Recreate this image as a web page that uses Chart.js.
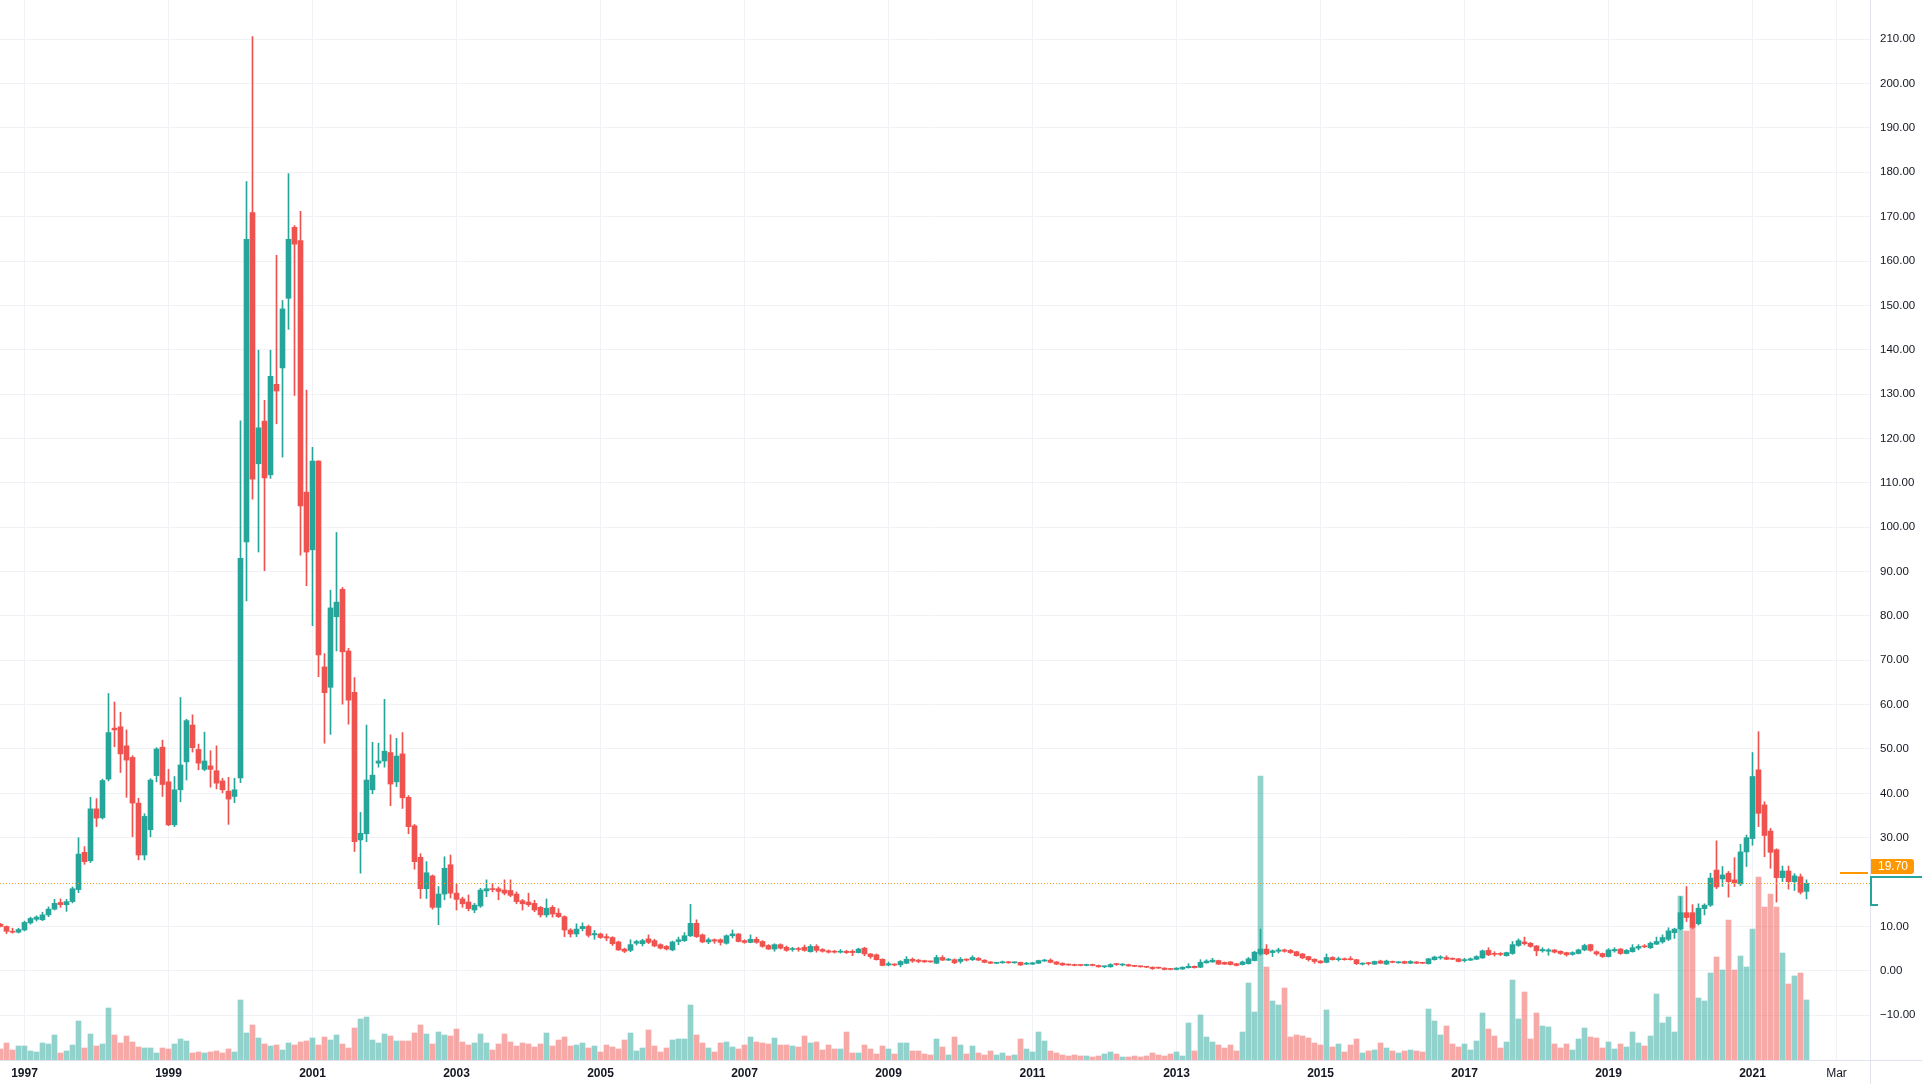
<!DOCTYPE html>
<html>
<head>
<meta charset="utf-8">
<script src="https://cdn.jsdelivr.net/npm/chart.js@4.4.1/dist/chart.umd.min.js"></script>
<style>
  html, body { margin: 0; padding: 0; background: #ffffff; }
  canvas { display: block; }
</style>
</head>
<body>
<canvas id="chart" width="1922" height="1084"></canvas>
<script>
// monthly candles, first bar is Sep 1996, last bar Oct 2021
var firstYear = 1996, firstMonth = 8;

var opens = [10.5,10.0,8.9,8.7,
  9.2,10.8,11.6,11.5,12.6,13.9,15.4,14.9,15.6,18.3,26.7,24.8,
  36.5,34.5,43.2,54.7,55.0,50.7,48.1,37.8,26.1,31.8,44.0,50.4,
  42.6,32.9,40.8,47.1,55.4,49.9,45.4,46.2,45.1,42.8,40.5,39.3,
  43.5,96.7,170.9,114.3,123.9,111.8,132.2,135.9,151.6,167.6,164.6,107.9,
  94.9,114.9,68.5,63.9,79.8,86.0,72.1,62.8,29.5,30.9,40.8,46.8,
  47.3,49.2,42.6,48.9,39.1,32.7,25.6,18.5,21.4,14.3,17.3,23.9,
  17.5,16.2,15.5,13.7,14.6,18.0,18.5,18.5,18.2,18.1,17.3,15.8,
  15.5,15.2,14.3,12.6,14.3,13.0,12.2,9.2,8.3,9.5,10.0,8.1,
  8.3,7.7,7.5,6.5,4.9,4.6,6.2,6.1,7.2,6.8,5.9,5.5,
  4.7,6.6,6.8,7.9,10.7,8.1,6.5,7.0,7.0,6.2,7.9,8.3,
  6.8,6.4,7.1,6.6,5.7,4.9,5.9,5.3,4.8,4.9,5.3,4.3,
  5.5,4.8,4.5,4.4,4.2,4.4,4.4,4.1,5.1,3.8,3.6,2.6,
  1.3,1.5,1.35,1.7,2.6,2.4,2.3,2.1,1.7,3.0,2.4,2.5,
  2.1,2.6,2.5,2.8,2.4,2.0,1.7,1.8,2.0,1.8,1.9,1.5,
  1.5,1.7,2.2,2.4,2.0,1.7,1.4,1.4,1.3,1.2,1.4,1.2,
  0.9,0.9,1.5,1.3,1.4,1.1,1.0,0.9,0.8,0.7,0.6,0.4,
  0.3,0.4,0.7,1.0,0.8,1.8,2.0,2.3,1.9,2.0,1.6,1.4,
  1.6,2.3,3.8,4.9,4.1,4.4,4.7,4.6,4.3,3.8,3.2,2.6,
  2.2,1.9,3.0,2.5,2.7,2.7,2.5,1.5,1.7,1.5,2.2,1.5,
  2.1,1.8,2.1,1.7,2.0,1.8,1.6,2.5,2.9,3.0,2.8,2.7,
  2.3,2.4,2.6,2.9,4.6,3.9,3.9,3.4,3.9,5.7,6.5,6.2,
  5.6,4.5,4.4,4.7,4.4,4.1,3.7,3.9,4.7,5.9,4.3,3.9,
  3.2,4.5,4.9,3.9,4.3,5.1,5.6,5.2,6.0,6.5,7.1,8.6,
  9.5,13.1,13.1,10.6,14.0,14.8,22.7,20.7,22.0,20.5,19.6,26.8,
  29.8,45.3,37.4,31.5,27.3,21.0,22.5,20.1,21.2,17.9];

var highs = [10.7,10.1,9.6,9.6,
  11.2,12.1,12.4,13.2,14.4,16.1,16.2,16.1,18.9,30.0,28.0,39.1,
  38.8,43.2,62.5,60.6,58.3,54.3,48.5,38.9,35.4,43.3,50.3,52.0,
  45.4,43.8,61.6,56.7,57.7,51.1,53.8,49.6,50.7,43.4,43.6,43.4,
  124.0,177.9,210.6,139.9,128.6,139.9,161.3,151.1,179.7,168.0,171.2,130.9,
  118.0,115.0,71.5,85.8,98.8,86.4,72.7,66.1,35.7,55.4,51.5,51.3,
  61.2,53.2,52.4,53.7,39.5,33.0,26.4,24.6,21.6,19.0,25.7,26.1,
  19.6,16.6,17.1,15.2,18.6,20.5,19.7,18.9,20.5,20.5,17.8,16.1,
  17.5,15.9,14.5,16.2,14.7,14.0,12.4,9.5,10.6,10.8,10.3,9.1,
  8.5,8.3,7.7,6.7,5.1,7.0,6.9,7.1,8.1,7.1,6.1,5.7,
  6.7,7.6,8.6,15.0,11.5,8.3,7.4,7.2,7.2,8.1,9.2,8.4,
  7.0,8.1,7.6,6.8,5.9,6.1,6.1,5.6,5.3,5.3,5.8,5.9,
  5.9,5.0,4.7,4.6,4.8,4.6,4.7,5.1,5.3,3.9,3.8,2.7,
  2.0,1.6,2.3,3.2,2.9,2.6,2.4,2.2,3.5,3.4,2.8,2.7,
  3.0,2.7,3.4,3.0,2.5,2.1,1.9,2.2,2.1,2.0,2.0,1.9,
  1.9,2.4,2.6,2.7,2.1,1.8,1.5,1.5,1.4,1.5,1.5,1.3,
  1.1,1.6,1.7,1.6,1.5,1.2,1.1,1.0,0.9,0.8,0.7,0.5,
  0.7,0.9,1.6,1.1,2.5,2.5,2.8,2.4,2.0,2.1,1.7,2.2,
  3.0,4.4,9.4,5.9,4.7,5.1,4.9,4.8,4.4,3.9,3.3,2.7,
  2.3,3.8,3.2,3.1,2.9,3.2,2.6,1.8,1.9,2.2,2.4,2.4,
  2.2,2.1,2.2,2.3,2.1,1.9,2.8,3.3,3.4,3.4,2.9,2.8,
  2.8,2.9,3.4,4.7,5.2,4.3,4.1,4.2,6.6,7.2,7.6,6.4,
  5.7,5.2,5.0,4.8,4.5,4.2,4.3,4.9,6.0,6.0,4.5,4.0,
  5.0,5.2,5.0,4.8,5.9,5.9,5.9,6.5,7.6,8.1,9.7,9.6,
  16.7,19.0,14.9,15.1,15.1,22.0,29.3,23.5,22.4,25.5,28.5,30.6,
  49.2,53.9,38.1,32.1,27.5,23.6,23.6,21.9,21.8,20.5];

var lows = [9.9,8.4,8.5,8.5,
  9.0,10.5,11.2,11.3,12.2,13.7,14.3,13.4,15.3,17.6,24.0,24.4,
  32.5,34.2,42.8,50.5,44.7,39.1,30.2,25.0,25.0,30.2,42.6,39.3,
  32.7,32.5,38.1,43.0,49.3,45.3,45.1,41.4,41.0,40.1,33.0,37.9,
  42.4,83.4,106.3,94.4,90.2,111.0,123.3,115.8,144.6,129.7,93.7,86.8,
  77.8,66.3,51.3,53.3,72.1,60.1,55.6,26.9,22.0,29.1,39.9,45.9,
  45.9,37.2,41.5,36.6,30.9,22.9,16.3,16.3,13.9,10.4,16.0,16.4,
  13.7,14.3,13.5,13.1,14.3,16.7,17.8,16.0,17.1,16.7,15.1,13.7,
  14.5,13.3,12.1,12.1,12.1,12.0,7.7,7.6,7.7,9.0,7.6,7.1,
  7.3,6.8,5.7,4.6,4.1,4.3,5.8,5.6,6.1,5.4,4.9,4.7,
  4.5,5.9,6.6,7.7,7.5,6.3,6.1,6.2,5.8,6.0,7.4,6.5,
  6.2,6.3,6.2,5.3,4.8,4.4,4.9,4.4,4.4,4.4,4.4,4.2,
  4.2,4.2,4.0,4.0,4.0,3.9,3.4,4.0,3.4,2.8,2.4,1.1,
  1.1,1.1,0.9,1.6,1.9,1.8,1.9,1.9,1.6,2.3,2.3,1.6,
  1.7,2.2,2.3,2.3,1.8,1.6,1.6,1.7,1.7,1.7,1.2,1.4,
  1.4,1.6,2.1,1.8,1.4,1.2,1.2,1.1,1.1,1.1,1.1,0.8,
  0.7,0.8,1.2,1.1,1.0,0.9,0.8,0.7,0.3,0.5,0.2,0.2,
  0.2,0.3,0.6,0.6,0.7,1.7,1.9,1.4,1.4,1.3,1.1,1.3,
  1.5,2.2,3.5,3.6,3.2,4.0,4.2,3.9,3.3,2.7,2.2,1.7,
  1.7,1.8,2.4,2.2,2.4,2.4,1.4,1.3,1.3,1.4,1.6,1.4,
  1.8,1.7,1.6,1.6,1.6,1.6,1.5,2.4,2.6,2.5,2.5,2.0,
  2.0,2.3,2.5,2.8,3.4,3.3,3.4,3.3,3.7,5.5,5.8,5.3,
  3.4,4.2,3.5,4.0,3.7,3.3,3.5,3.8,4.5,4.4,3.5,3.0,
  3.1,4.2,3.7,3.8,4.2,4.7,5.2,5.0,5.9,6.2,6.8,7.3,
  9.2,11.1,9.5,10.3,12.6,14.5,18.5,19.0,16.6,19.0,19.2,23.5,
  28.3,32.5,25.7,23.1,15.5,20.1,18.4,18.1,17.3,16.2];

var closes = [10.0,8.9,8.7,9.3,
  10.9,11.8,12.1,12.6,13.9,15.2,14.9,15.6,18.5,26.3,24.6,36.5,
  34.4,42.9,53.7,54.3,48.9,47.5,37.8,26.1,34.8,43.0,50.0,42.0,
  32.9,40.8,46.4,56.4,50.3,46.8,47.3,45.4,42.3,40.8,38.7,40.8,
  93.0,164.9,110.8,122.4,111.1,134.0,130.7,149.2,164.9,163.8,104.8,94.4,
  114.9,71.2,62.7,81.8,83.1,71.9,61.0,29.1,31.0,43.0,44.1,47.3,
  49.5,42.1,48.4,39.0,32.5,24.6,18.5,22.1,14.3,17.3,23.1,17.5,
  16.1,15.1,14.0,14.8,18.2,18.5,18.3,17.9,17.5,17.0,15.6,15.1,
  14.9,13.7,12.6,14.1,12.8,12.2,9.2,8.3,9.4,10.0,8.0,8.4,
  7.5,7.4,6.1,4.7,4.4,5.9,6.6,6.8,6.4,5.6,5.1,4.9,
  6.5,7.0,7.9,10.7,7.7,6.5,7.0,6.7,6.4,7.9,8.3,6.6,
  6.4,7.1,6.4,5.5,4.9,5.9,5.1,4.6,4.9,4.8,4.6,5.5,
  4.6,4.4,4.2,4.2,4.4,4.1,4.1,4.9,3.8,3.2,2.5,1.2,
  1.6,1.3,2.1,2.6,2.2,2.1,2.0,2.0,3.0,2.4,2.6,1.8,
  2.6,2.4,3.0,2.4,1.9,1.7,1.8,2.0,1.8,1.9,1.3,1.6,
  1.8,2.3,2.4,1.9,1.5,1.3,1.3,1.2,1.2,1.4,1.2,0.9,
  1.0,1.4,1.4,1.4,1.1,1.0,0.9,0.8,0.5,0.6,0.3,0.3,
  0.6,0.8,1.0,0.7,1.9,2.2,2.4,1.5,1.5,1.4,1.2,2.0,
  2.7,4.2,4.9,3.8,4.5,4.7,4.4,4.1,3.4,2.9,2.5,2.1,
  1.8,3.0,2.5,2.7,2.5,2.5,1.6,1.7,1.6,2.1,1.7,2.2,
  1.9,1.9,1.7,2.1,1.7,1.7,2.7,3.1,3.0,2.6,2.6,2.1,
  2.5,2.7,3.2,4.5,3.6,3.7,3.7,4.1,5.9,6.8,6.1,5.5,
  4.5,4.8,4.7,4.2,3.9,3.6,4.1,4.7,5.7,4.6,3.8,3.2,
  4.7,4.8,3.9,4.6,5.2,5.5,5.4,6.2,6.6,7.5,9.0,9.4,
  13.1,12.0,9.8,14.1,14.8,20.9,18.9,21.6,20.1,19.8,26.8,30.0,
  43.8,35.5,30.5,26.7,21.0,22.5,20.1,21.4,17.7,19.7];

var volumes = [11,17,10,14,
  14,9,8,17,16,25,7,9,15,39,12,26,
  14,16,52,25,17,24,18,13,12,12,7,12,
  11,16,21,19,7,8,7,8,9,7,11,8,
  60,27,35,22,16,14,15,10,17,15,18,19,
  22,15,23,20,25,16,12,32,41,43,20,17,
  26,24,19,19,19,27,35,26,16,28,25,24,
  31,18,15,17,26,17,10,16,26,18,14,17,
  16,13,16,27,14,20,23,14,15,17,12,14,
  8,15,13,11,20,27,9,12,30,14,8,12,
  20,21,21,55,25,17,12,8,17,18,13,11,
  15,23,18,17,16,22,15,15,14,13,24,17,
  18,10,15,11,11,28,7,7,15,11,6,14,
  11,6,17,17,9,9,6,5,21,13,5,23,
  15,6,14,7,5,9,5,7,4,5,21,11,
  8,28,19,9,7,5,4,5,4,4,3,4,
  6,8,6,3,3,4,3,4,7,5,4,6,
  8,4,37,9,45,23,18,15,12,15,9,28,
  77,48,284,93,59,55,72,23,25,24,22,17,
  15,50,13,16,8,15,21,7,9,10,17,12,
  9,7,9,10,9,8,51,39,25,34,16,13,
  16,10,19,47,31,24,12,18,80,41,68,21,
  47,34,33,16,12,16,10,21,32,23,22,12,
  18,11,16,13,28,17,14,24,66,37,43,28,
  164,129,135,62,59,87,103,90,140,90,104,93,
  131,183,153,166,153,107,76,84,87,60];

// time axis labels, month counted from Jan 1997
var tickMonths = [0, 24, 48, 72, 96, 120, 144, 168, 192, 216, 240, 264, 288, 302];
var tickLabels = ['1997', '1999', '2001', '2003', '2005', '2007', '2009', '2011', '2013', '2015', '2017', '2019', '2021', 'Mar'];
// 20.00 sits under the price label, so it is left out
var priceTicks = [-10, 0, 10, 30, 40, 50, 60, 70, 80, 90, 100, 110, 120, 130, 140, 150, 160, 170, 180, 190, 200, 210];

var lastPrice = 19.70;
var markPrice = 22.0;
var bracketHigh = 21.2, bracketLow = 14.8;

var UP = '#26a69a', DOWN = '#ef5350';
var UP_VOL = 'rgba(38,166,154,0.5)', DOWN_VOL = 'rgba(239,83,80,0.5)';
var FONT = '"Liberation Sans", Arial, sans-serif';

var offset = (firstYear - 1997) * 12 + firstMonth;
var wickData = [], bodyData = [], volData = [], candleColors = [], volColors = [];
for (var i = 0; i < opens.length; i++) {
  var m = i + offset;
  wickData.push({x: m, y: [lows[i], highs[i]]});
  bodyData.push({x: m, y: [opens[i], closes[i]]});
  volData.push({x: m, y: volumes[i]});
  var up = closes[i] >= opens[i];
  candleColors.push(up ? UP : DOWN);
  volColors.push(up ? UP_VOL : DOWN_VOL);
}

// x: 6px per month, Jan 1997 centred at 24.5px; y: 10.00 = 44.36px
var xMin = -24.5 / 6;
var xMax = xMin + 1871 / 6;
var yMax = 218.84, yMin = -20.11;

var overlay = {
  id: 'overlay',
  afterDatasetsDraw: function(chart) {
    var ctx = chart.ctx, a = chart.chartArea, ys = chart.scales.y;
    ctx.save();
    // last price dotted line
    var py = Math.round(ys.getPixelForValue(lastPrice)) + 0.5;
    ctx.strokeStyle = '#f59b2a';
    ctx.lineWidth = 1;
    ctx.setLineDash([1, 2]);
    ctx.beginPath(); ctx.moveTo(a.left, py); ctx.lineTo(a.right, py); ctx.stroke();
    ctx.setLineDash([]);
    ctx.restore();
  },
  afterDraw: function(chart) {
    var ctx = chart.ctx, a = chart.chartArea, ys = chart.scales.y;
    var W = chart.width, H = chart.height;
    ctx.save();
    // axis borders
    ctx.strokeStyle = '#e0e3eb';
    ctx.lineWidth = 1;
    ctx.beginPath();
    ctx.moveTo(a.right - 0.5, 0); ctx.lineTo(a.right - 0.5, H);
    ctx.moveTo(0, a.bottom + 0.5); ctx.lineTo(W, a.bottom + 0.5);
    ctx.stroke();

    // orange marker line + label
    var my = Math.round(ys.getPixelForValue(markPrice));
    ctx.strokeStyle = '#ff9800';
    ctx.lineWidth = 2;
    ctx.beginPath(); ctx.moveTo(a.right - 31, my); ctx.lineTo(a.right - 3, my); ctx.stroke();
    ctx.fillStyle = '#ff9800';
    ctx.beginPath();
    ctx.moveTo(a.right, my - 14);
    ctx.lineTo(a.right + 40, my - 14);
    ctx.quadraticCurveTo(a.right + 43, my - 14, a.right + 43, my - 11);
    ctx.lineTo(a.right + 43, my - 2);
    ctx.quadraticCurveTo(a.right + 43, my + 1, a.right + 40, my + 1);
    ctx.lineTo(a.right, my + 1);
    ctx.closePath();
    ctx.fill();
    ctx.fillStyle = '#ffffff';
    ctx.font = '12px ' + FONT;
    ctx.textAlign = 'center';
    ctx.textBaseline = 'middle';
    ctx.fillText(lastPrice.toFixed(2), a.right + 22, my - 6);

    // green bracket
    var bt = Math.round(ys.getPixelForValue(bracketHigh));
    var bb = Math.round(ys.getPixelForValue(bracketLow));
    ctx.strokeStyle = UP;
    ctx.lineWidth = 2;
    ctx.beginPath();
    ctx.moveTo(W, bt); ctx.lineTo(a.right, bt); ctx.lineTo(a.right, bb); ctx.lineTo(a.right + 7, bb);
    ctx.stroke();
    ctx.restore();
  }
};

new Chart(document.getElementById('chart'), {
  type: 'bar',
  data: {
    datasets: [
      {
        label: 'body',
        data: bodyData,
        backgroundColor: candleColors,
        barThickness: 5,
        minBarLength: 1,
        grouped: false,
        yAxisID: 'y',
        order: 1
      },
      {
        label: 'wick',
        data: wickData,
        backgroundColor: candleColors,
        barThickness: 1,
        grouped: false,
        yAxisID: 'y',
        order: 2
      },
      {
        label: 'volume',
        data: volData,
        backgroundColor: volColors,
        barThickness: 5,
        grouped: false,
        yAxisID: 'yv',
        order: 3
      }
    ]
  },
  options: {
    responsive: false,
    animation: false,
    devicePixelRatio: 1,
    layout: { padding: 0 },
    plugins: { legend: { display: false }, tooltip: { enabled: false } },
    scales: {
      x: {
        type: 'linear',
        min: xMin,
        max: xMax,
        offset: false,
        grid: { color: '#f0f2f6', offset: false, drawTicks: false },
        border: { display: false },
        afterBuildTicks: function(s) { s.ticks = tickMonths.map(function(v) { return {value: v}; }); },
        afterFit: function(s) { s.height = 24; s.paddingLeft = 0; s.paddingRight = 0; },
        ticks: {
          autoSkip: false,
          maxRotation: 0,
          padding: 6,
          color: '#131722',
          font: function(c) {
            var bold = c.tick && c.tick.value !== 302;
            return { family: FONT, size: 12, weight: bold ? 'bold' : 'normal' };
          },
          callback: function(v, i) { return tickLabels[i]; }
        }
      },
      y: {
        position: 'right',
        min: yMin,
        max: yMax,
        grid: { color: '#f0f2f6', drawTicks: false },
        border: { display: false },
        afterBuildTicks: function(s) { s.ticks = priceTicks.map(function(v) { return {value: v}; }); },
        afterFit: function(s) { s.width = 51; s.paddingTop = 0; s.paddingBottom = 0; },
        ticks: {
          padding: 9,
          color: '#131722',
          font: { family: FONT, size: 11.5 },
          callback: function(v) { return (v < 0 ? '\u2212' : '') + Math.abs(v).toFixed(2); }
        }
      },
      yv: {
        display: false,
        min: 0,
        max: 1060
      }
    }
  },
  plugins: [overlay]
});
</script>
</body>
</html>
